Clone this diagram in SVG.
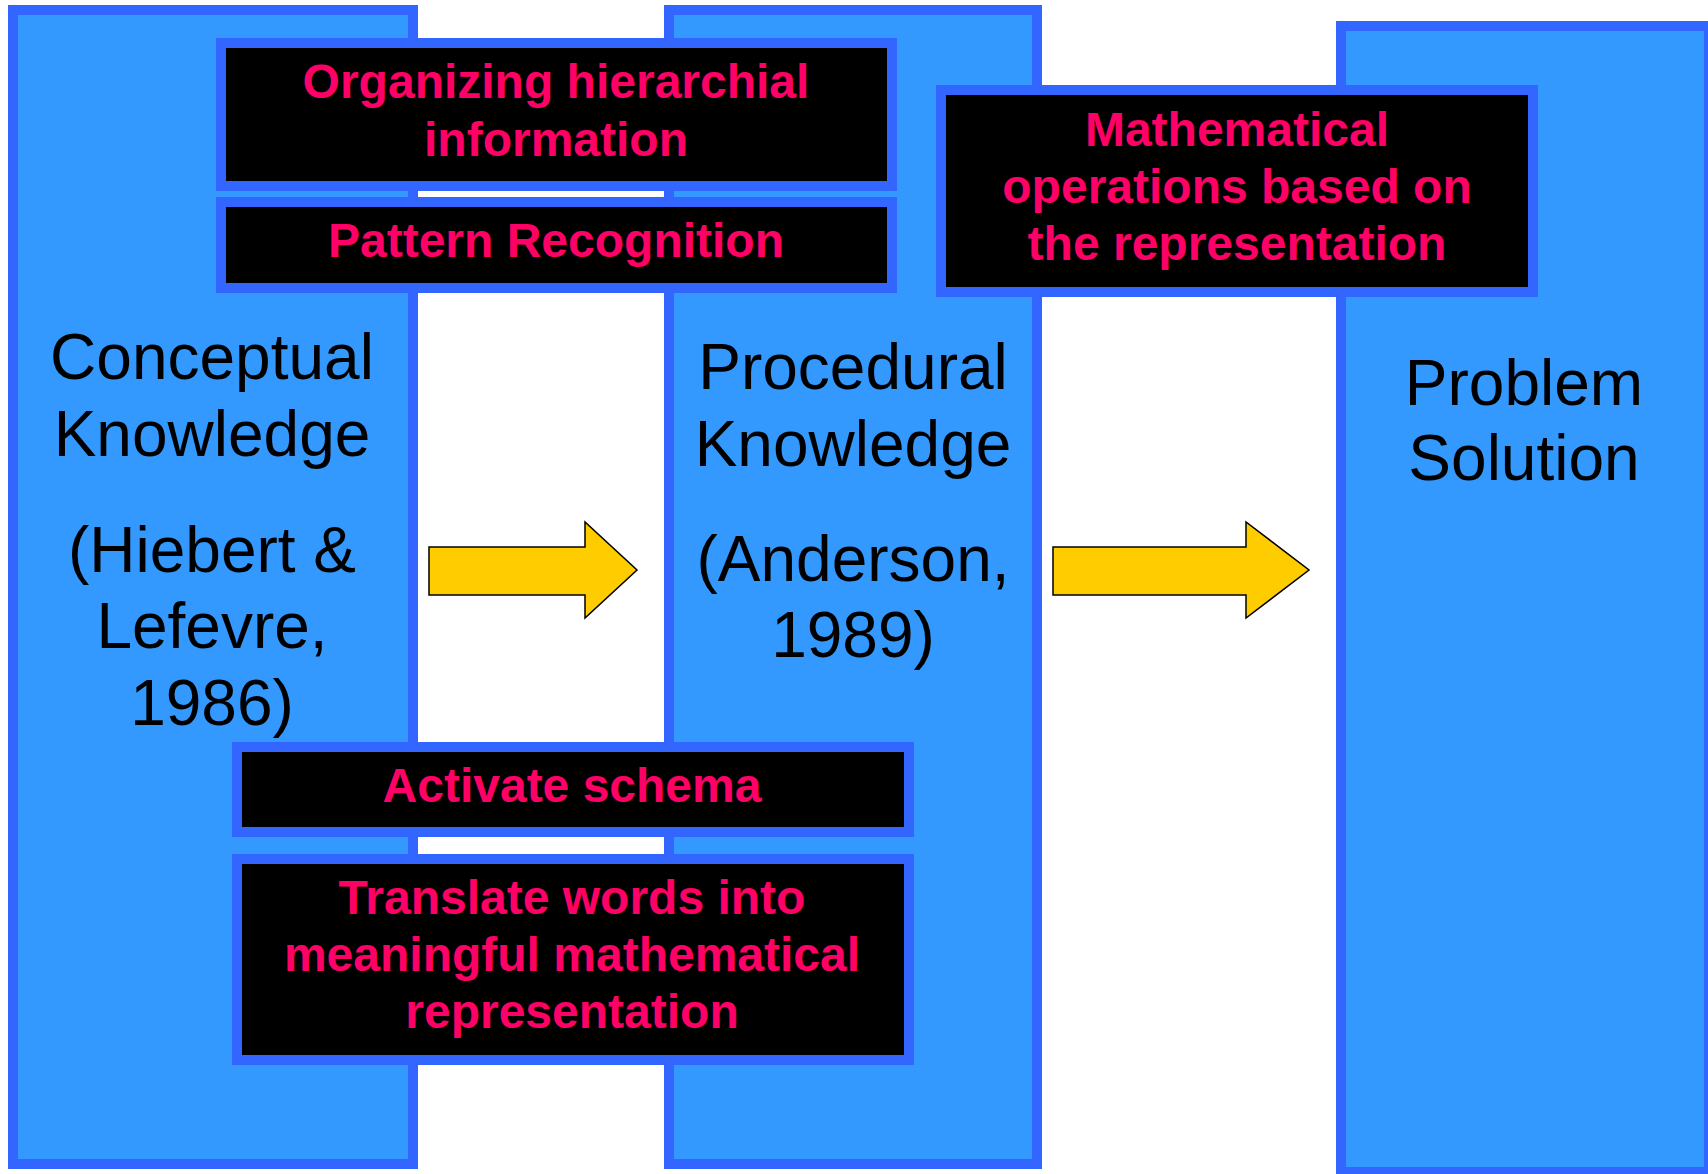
<svg xmlns="http://www.w3.org/2000/svg" width="1708" height="1174" viewBox="0 0 1708 1174">
<style>
.col{fill:#3399FF;stroke:#3366FF;stroke-width:10}
.box{fill:#000000;stroke:#3366FF;stroke-width:10}
.ct{font-family:"Liberation Sans",Arial,sans-serif;font-size:64px;fill:#000000;text-anchor:middle}
.bt{font-family:"Liberation Sans",Arial,sans-serif;font-size:48px;font-weight:bold;fill:#FF0066;text-anchor:middle}
.arr{fill:#FFCC00;stroke:#000000;stroke-width:1.5;stroke-linejoin:miter}
</style>
<rect width="1708" height="1174" fill="#FFFFFF"/>
<g id="conceptual">
<rect class="col" x="13" y="10" width="400" height="1154"/>
<text class="ct" x="212" y="379">Conceptual</text>
<text class="ct" x="212" y="456">Knowledge</text>
<text class="ct" x="212" y="572">(Hiebert &amp;</text>
<text class="ct" x="212" y="648">Lefevre,</text>
<text class="ct" x="212" y="725">1986)</text>
</g>
<g id="procedural">
<rect class="col" x="669" y="10" width="368" height="1154"/>
<text class="ct" x="853" y="389">Procedural</text>
<text class="ct" x="853" y="466">Knowledge</text>
<text class="ct" x="853" y="581">(Anderson,</text>
<text class="ct" x="853" y="657">1989)</text>
</g>
<g id="solution">
<rect class="col" x="1341" y="26" width="368" height="1146"/>
<text class="ct" x="1524" y="405">Problem</text>
<text class="ct" x="1524" y="480">Solution</text>
</g>
<g id="organizing">
<rect class="box" x="221" y="43" width="671" height="143"/>
<text class="bt" x="556" y="98">Organizing hierarchial</text>
<text class="bt" x="556" y="156">information</text>
</g>
<g id="pattern">
<rect class="box" x="221" y="202" width="671" height="86"/>
<text class="bt" x="556" y="257">Pattern Recognition</text>
</g>
<g id="mathops">
<rect class="box" x="941" y="90" width="592" height="202"/>
<text class="bt" x="1237" y="146">Mathematical</text>
<text class="bt" x="1237" y="203">operations based on</text>
<text class="bt" x="1237" y="260">the representation</text>
</g>
<g id="activate">
<rect class="box" x="237" y="747" width="672" height="85"/>
<text class="bt" x="572" y="802">Activate schema</text>
</g>
<g id="translate">
<rect class="box" x="237" y="859" width="672" height="201"/>
<text class="bt" x="572" y="914">Translate words into</text>
<text class="bt" x="572" y="971">meaningful mathematical</text>
<text class="bt" x="572" y="1028">representation</text>
</g>
<g id="connectors">
<polygon class="arr" points="429,547 585,547 585,522 637,570 585,618 585,595 429,595"/>
<polygon class="arr" points="1053,547 1246,547 1246,522 1309,570 1246,618 1246,595 1053,595"/>
</g>
</svg>
